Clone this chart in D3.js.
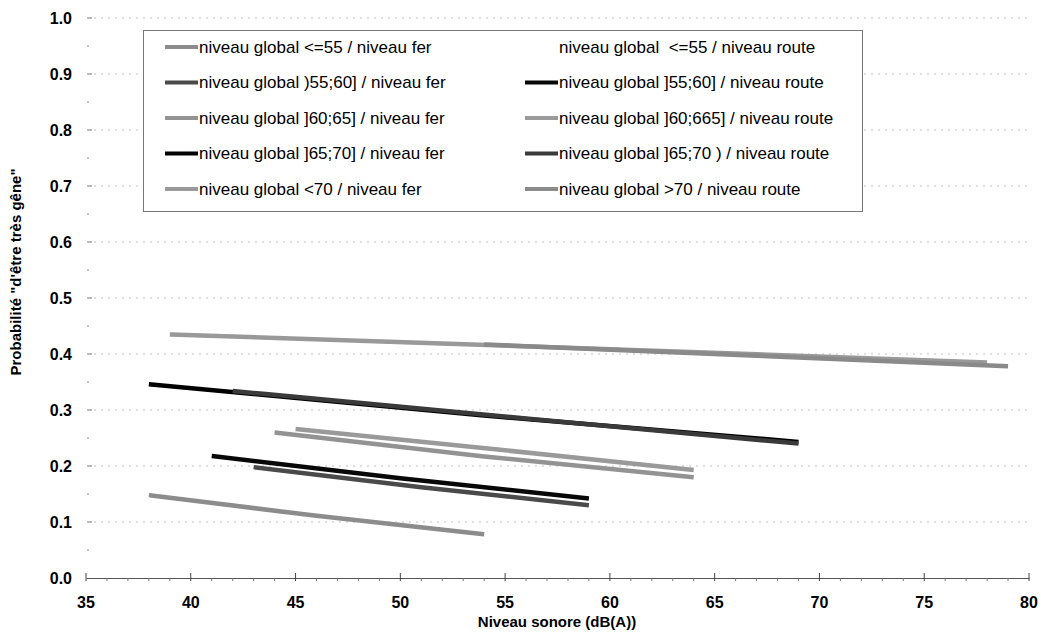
<!DOCTYPE html>
<html><head><meta charset="utf-8">
<script src="https://cdn.jsdelivr.net/npm/d3@7"></script>
<style>body{margin:0;background:#fff}svg{display:block}text{font-family:"Liberation Sans",Arial,sans-serif}</style>
</head><body>
<svg id="c" width="1041" height="634"></svg>
<script>
// ---- data ----
const seriesNames = [
  "niveau global <=55 / niveau fer",
  "niveau global )55;60] / niveau fer",
  "niveau global ]60;65] / niveau fer",
  "niveau global ]65;70] / niveau fer",
  "niveau global <70 / niveau fer",
  "niveau global  <=55 / niveau route",
  "niveau global ]55;60] / niveau route",
  "niveau global ]60;665] / niveau route",
  "niveau global ]65;70 ) / niveau route",
  "niveau global >70 / niveau route"
];
const seriesX = [
  [38, 46, 54],
  [43, 51, 59],
  [44, 54, 64],
  [38, 54, 69],
  [39, 59, 78],
  [],
  [41, 50, 59],
  [45, 55, 64],
  [42, 56, 69],
  [54, 67, 79]
];
const seriesY = [
  [0.148, 0.111, 0.078],
  [0.198, 0.162, 0.130],
  [0.260, 0.217, 0.180],
  [0.346, 0.290, 0.243],
  [0.435, 0.410, 0.385],
  [],
  [0.218, 0.178, 0.142],
  [0.266, 0.228, 0.193],
  [0.334, 0.285, 0.240],
  [0.417, 0.397, 0.378]
];
const seriesColor = ["#8c8c8c","#4a4a4a","#939393","#000000","#999999","none","#080808","#9a9a9a","#3a3a3a","#8a8a8a"];
const xTicks = [35,40,45,50,55,60,65,70,75,80];
const yTicks = [0,0.1,0.2,0.3,0.4,0.5,0.6,0.7,0.8,0.9,1.0];
const xTitle = "Niveau sonore (dB(A))";
const yTitle = "Probabilité \"d'être très gêne\"";

// ---- drawing ----
const svg = d3.select("#c");
const x = d3.scaleLinear().domain([35,80]).range([86,1029]);
const y = d3.scaleLinear().domain([0,1]).range([578,18]);

// gridlines
svg.append("g").selectAll("line").data(yTicks.filter(d=>d>0)).join("line")
  .attr("x1",x(35)+8).attr("x2",x(80)).attr("y1",d=>y(d)).attr("y2",d=>y(d))
  .attr("stroke","#c0c0c0").attr("stroke-width",1).attr("stroke-dasharray","2,5");

// y ticks (major + minor)
const yMinor = d3.range(0.05,1,0.1);
svg.append("g").selectAll("line").data(yTicks.filter(d=>d>0)).join("line")
  .attr("x1",x(35)+1).attr("x2",x(35)+6).attr("y1",d=>y(d)).attr("y2",d=>y(d))
  .attr("stroke","#777");
svg.append("g").selectAll("line").data(yMinor).join("line")
  .attr("x1",x(35)+1).attr("x2",x(35)+3).attr("y1",d=>y(d)).attr("y2",d=>y(d))
  .attr("stroke","#888");
svg.append("g").selectAll("text").data(yTicks).join("text")
  .attr("x",72).attr("y",d=>y(d)).attr("dy","0.35em").attr("text-anchor","end")
  .attr("font-size",16).attr("font-weight","bold").text(d=>d.toFixed(1));

// x axis
const xa = svg.append("g").attr("transform",`translate(0,${y(0)})`)
  .call(d3.axisBottom(x).tickValues(xTicks).tickSize(0).tickFormat(""));
xa.select(".domain").attr("stroke","#555");
svg.append("g").selectAll("line").data(xTicks).join("line")
  .attr("x1",d=>x(d)).attr("x2",d=>x(d)).attr("y1",y(0)-5).attr("y2",y(0)+3).attr("stroke","#444");
svg.append("g").selectAll("line").data(d3.range(36,80).filter(d=>d%5)).join("line")
  .attr("x1",d=>x(d)).attr("x2",d=>x(d)).attr("y1",y(0)).attr("y2",y(0)+3).attr("stroke","#777");
svg.append("g").selectAll("text").data(xTicks).join("text")
  .attr("x",d=>x(d)).attr("y",608).attr("text-anchor","middle")
  .attr("font-size",16).attr("font-weight","bold").text(d=>d);

// titles
svg.append("text").attr("x",557).attr("y",627).attr("text-anchor","middle")
  .attr("font-size",15).attr("font-weight","bold").text(xTitle);
svg.append("text").attr("transform","translate(21,272) rotate(-90)").attr("text-anchor","middle")
  .attr("font-size",15).attr("font-weight","bold").text(yTitle);

// lines
const line = d3.line().x(d=>x(d[0])).y(d=>y(d[1])).curve(d3.curveMonotoneX);
seriesNames.forEach((n,i)=>{
  if(!seriesX[i].length || seriesColor[i]==="none") return;
  svg.append("path").datum(seriesX[i].map((v,j)=>[v,seriesY[i][j]]))
    .attr("d",line).attr("fill","none").attr("stroke",seriesColor[i])
    .attr("stroke-width",4.5);
});

// legend
const lg = svg.append("g");
lg.append("rect").attr("x",143.5).attr("y",30.5).attr("width",719).attr("height",181)
  .attr("fill","#fff").attr("stroke","#777");
seriesNames.forEach((n,i)=>{
  const col = i<5?0:1, row = i%5;
  const lx = col?525:165, ty = 47 + row*35.5;
  if(seriesColor[i]!=="none")
    lg.append("line").attr("x1",lx).attr("x2",lx+33).attr("y1",ty).attr("y2",ty)
      .attr("stroke",seriesColor[i]).attr("stroke-width",4);
  lg.append("text").attr("x",lx+34).attr("y",ty).attr("dy","0.35em")
    .attr("font-size",17).style("white-space","pre").text(n);
});
</script>
</body></html>
